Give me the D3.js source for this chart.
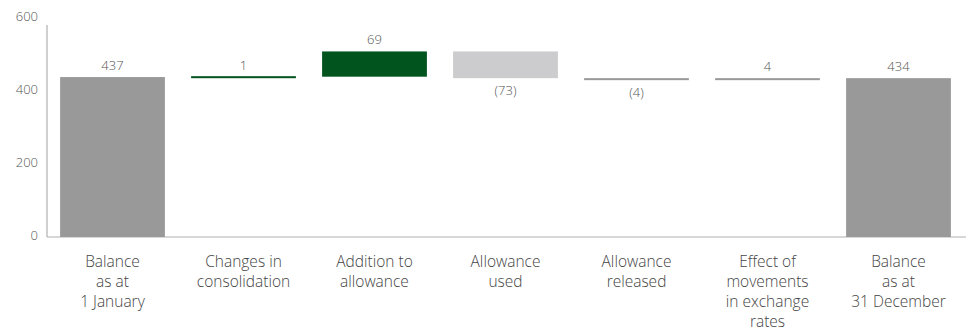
<!DOCTYPE html>
<html><head><meta charset="utf-8">
<script src="https://cdn.jsdelivr.net/npm/d3@7/dist/d3.min.js"></script>
<style>body{margin:0;background:#fff;} svg{display:block;}</style>
</head><body>
<svg id="c" width="966" height="329"></svg>
<script>
const categories = [
  ["Balance","as at","1 January"],
  ["Changes in","consolidation"],
  ["Addition to","allowance"],
  ["Allowance","used"],
  ["Allowance","released"],
  ["Effect of","movements","in exchange","rates"],
  ["Balance","as at","31 December"]
];
const values = [437, 1, 69, -73, -4, 4, 434];
const kinds = ["total","delta","delta","delta","delta","delta","total"];
const valueLabels = ["437","1","69","(73)","(4)","4","434"];
const yTicks = [0, 200, 400, 600];

const colors = {total:"#999999", up:"#02541f", down:"#cccbcd", small:"#999999", smallUp:"#02541f"};
const fillFor = [colors.total, colors.smallUp, colors.up, colors.down, colors.small, colors.small, colors.total];

let run = 0;
const bars = values.map((v,i)=>{
  let y0, y1;
  if (kinds[i]==="total") { y0 = 0; y1 = v; run = v; }
  else { y0 = run; y1 = run + v; run = y1; }
  return {i, v, lo: Math.min(y0,y1), hi: Math.max(y0,y1), label: valueLabels[i], neg: v<0, kind: kinds[i]};
});

const svg = d3.select("#c");
const x = d3.scaleBand().domain(d3.range(categories.length)).range([47, 964]).paddingInner(0.2).paddingOuter(0.1);
const y = d3.scaleLinear().domain([0, 600]).range([237, 17.4]);
const FONT = "Open Sans, sans-serif";

const yAxis = d3.axisLeft(y).tickValues(yTicks).tickSize(0).tickPadding(9);
const gy = svg.append("g").attr("transform","translate(47,0)").call(yAxis);
gy.select(".domain").remove();
gy.selectAll("text").attr("font-family",FONT).attr("font-weight",300).attr("font-size","13px").attr("fill","#555").attr("dy","0.2em");
svg.append("line").attr("x1",47).attr("x2",47).attr("y1",y(0)).attr("y2",25).attr("stroke","#b0b0b0").attr("stroke-width",1.2);
svg.append("line").attr("x1",47).attr("x2",966).attr("y1",y(0)).attr("y2",y(0)).attr("stroke","#b0b0b0").attr("stroke-width",1.2);

svg.append("g").selectAll("rect").data(bars).join("rect")
  .attr("x", d=>x(d.i)).attr("width", x.bandwidth())
  .attr("y", d=>{const h=y(d.lo)-y(d.hi); return h<2 ? (d.i===1 ? y(d.hi)-0.5 : y(d.hi)) : y(d.hi);})
  .attr("height", d=>Math.max(2, y(d.lo)-y(d.hi)))
  .attr("fill", d=>fillFor[d.i]);

svg.append("g").selectAll("text").data(bars).join("text")
  .attr("x", d=>x(d.i)+x.bandwidth()/2)
  .attr("y", d=>d.neg ? Math.max(y(d.lo), y(d.hi)+2) + 17 : y(d.hi) - 7)
  .attr("text-anchor","middle")
  .attr("font-family",FONT).attr("font-weight",300).attr("font-size","13px").attr("fill","#555")
  .text(d=>d.label);

const cg = svg.append("g").selectAll("text").data(categories).join("text")
  .attr("x",(d,i)=>x(i)+x.bandwidth()/2).attr("y",267)
  .attr("text-anchor","middle")
  .attr("font-family",FONT).attr("font-weight",300).attr("font-size","15.5px").attr("fill","#444");
cg.selectAll("tspan").data(d=>d).join("tspan")
  .attr("x", function(){return this.parentNode.getAttribute("x");})
  .attr("dy",(d,j)=>j===0?0:20).text(d=>d);
</script>
</body></html>
